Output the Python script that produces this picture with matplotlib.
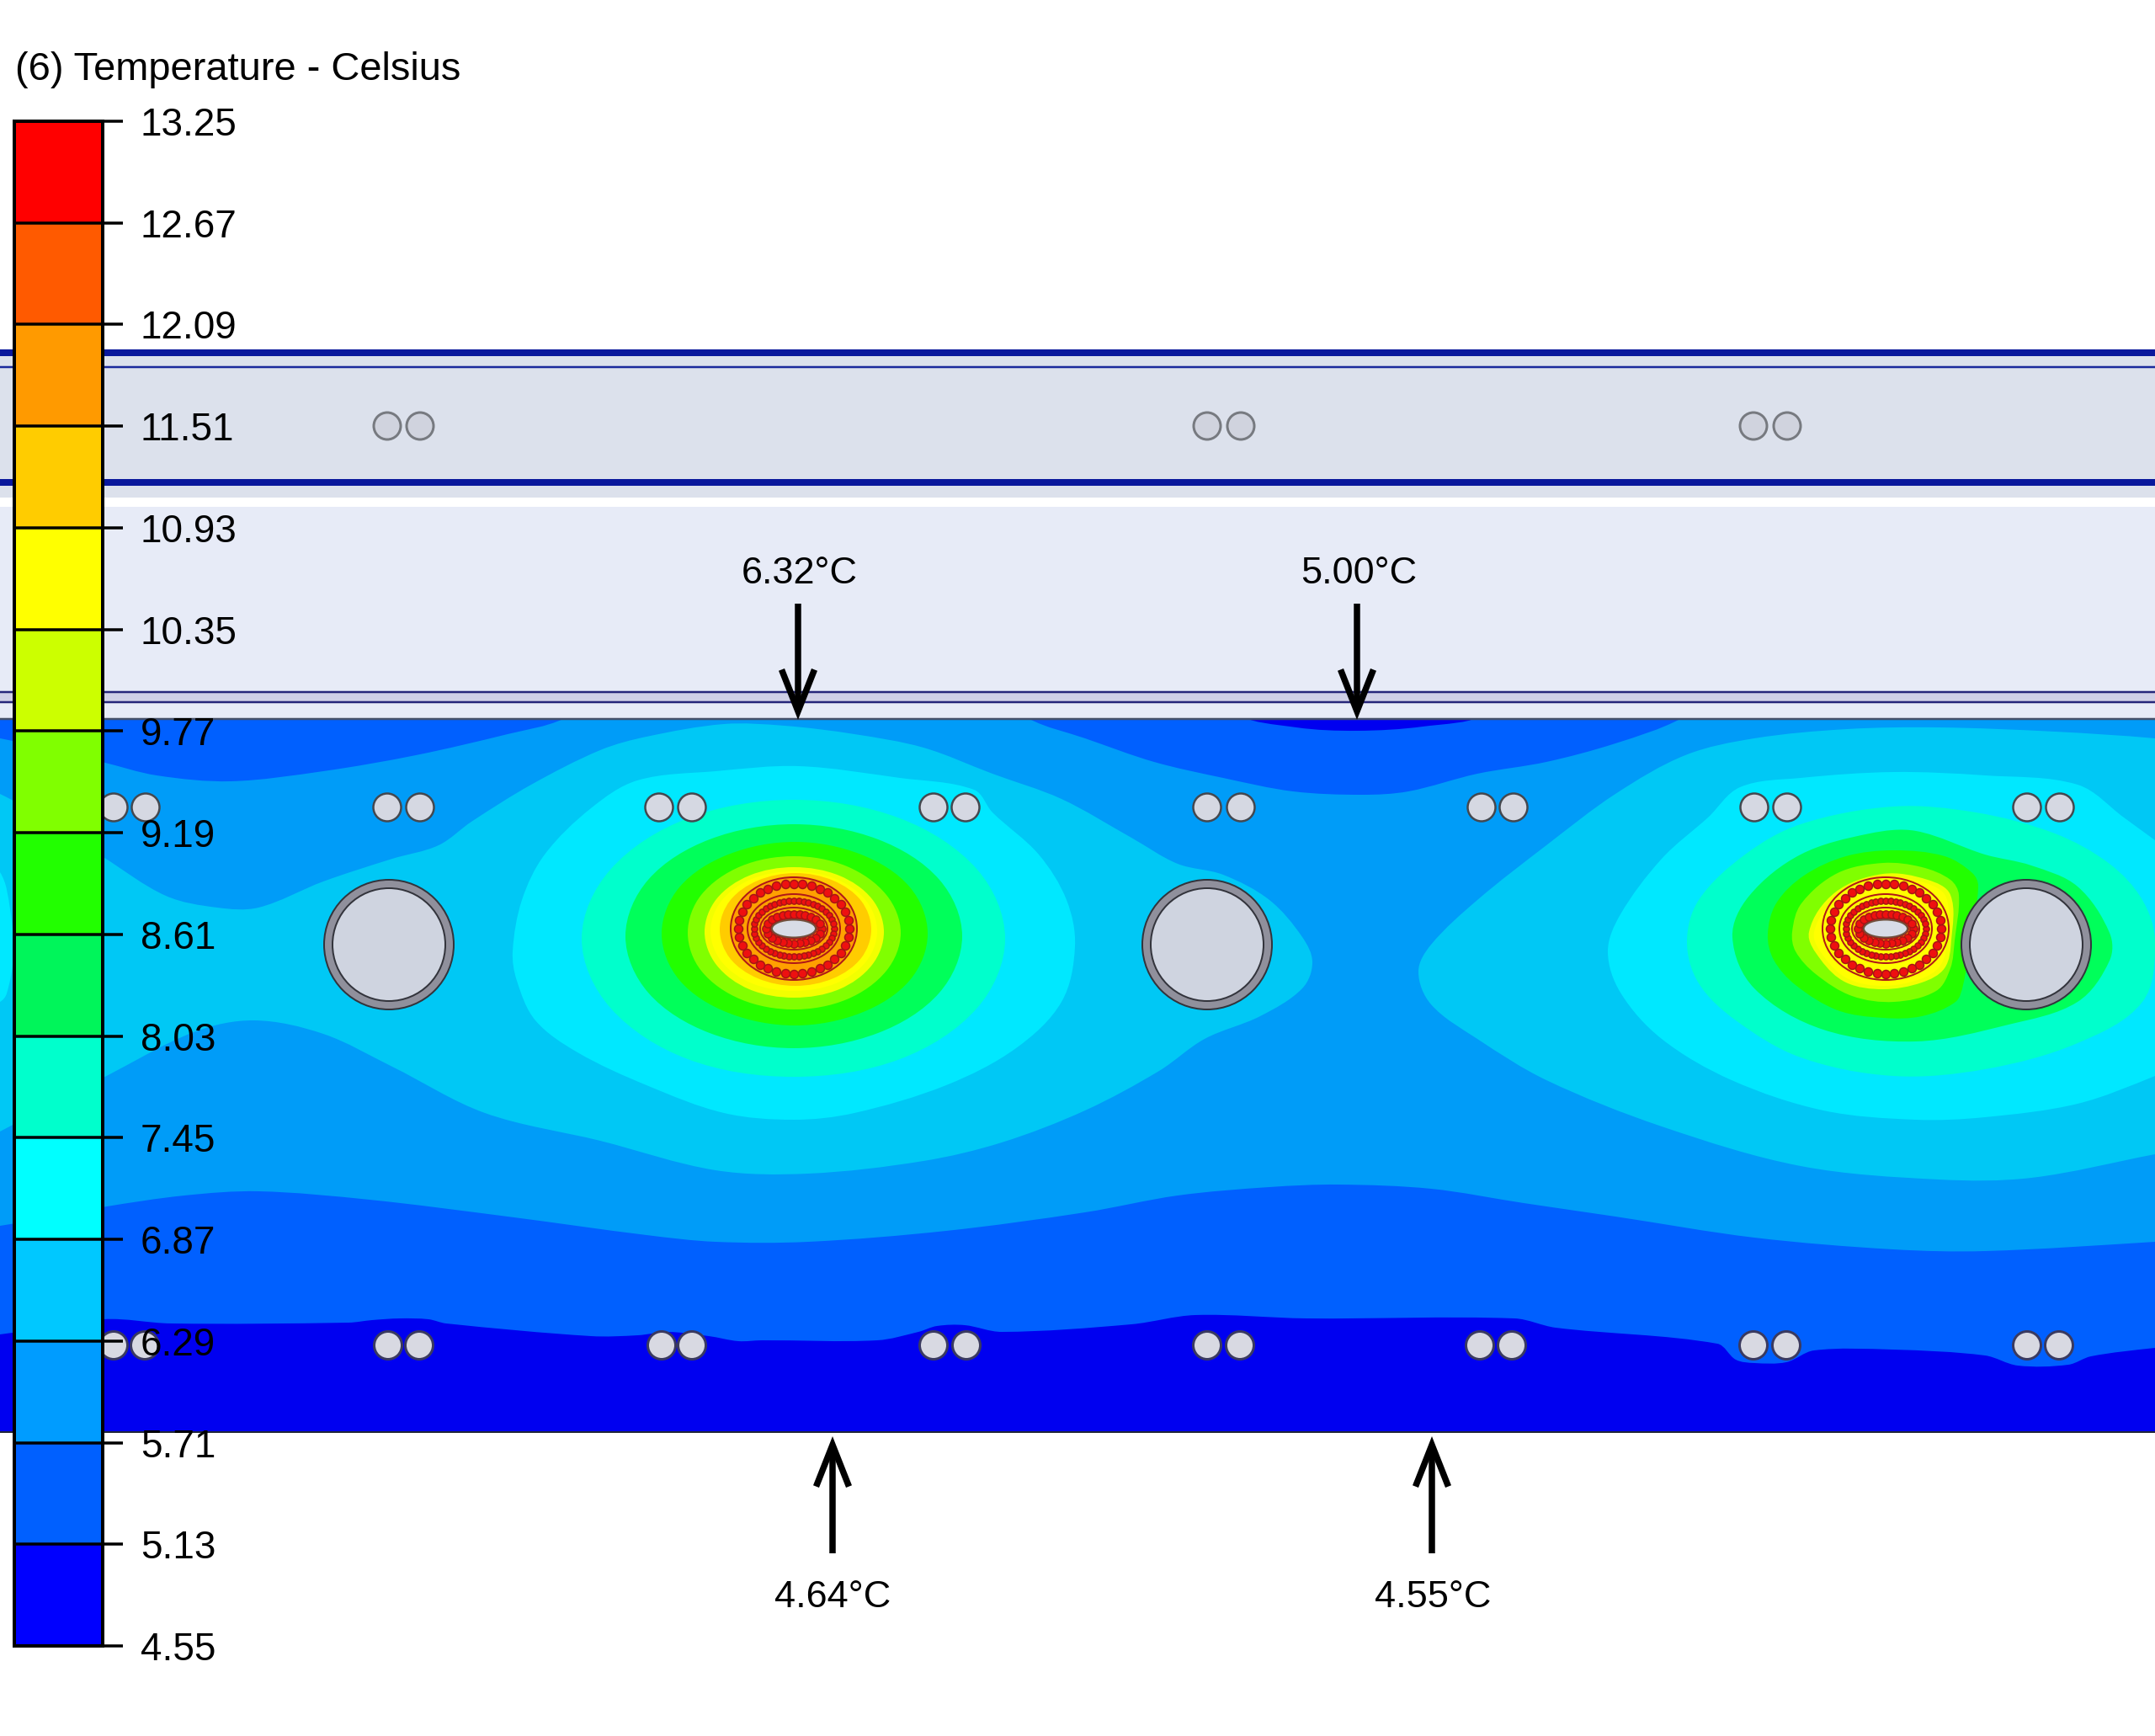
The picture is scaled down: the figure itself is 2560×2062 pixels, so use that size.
import numpy as np
import matplotlib
matplotlib.use("Agg")
import matplotlib.pyplot as plt
from matplotlib.cm import ScalarMappable
from matplotlib.colors import BoundaryNorm, ListedColormap
from matplotlib.patches import Circle, Ellipse, PathPatch, Rectangle
from matplotlib.path import Path

plt.rcParams['font.family'] = ['Liberation Sans', 'DejaVu Sans']

W, H = 2560, 2062

# colour scale
levels = [4.55, 5.13, 5.71, 6.29, 6.87, 7.45, 8.03, 8.61, 9.19, 9.77, 10.35, 10.93, 11.51, 12.09, 12.67, 13.25]
level_labels = ['4.55', '5.13', '5.71', '6.29', '6.87', '7.45', '8.03', '8.61', '9.19', '9.77', '10.35', '10.93',
                '11.51', '12.09', '12.67', '13.25']
bar_colors = ['#0000ff', '#0060ff', '#009cff', '#00c8ff', '#00ffff', '#00ffcc', '#00f55a', '#22ff00', '#80ff00',
              '#ccff00', '#ffff00', '#ffcc00', '#ff9a00', '#ff5a00', '#ff0000']
field_colors = ['#0000f0', '#0060ff', '#009cf8', '#00c8f5', '#00e8ff', '#00ffcc', '#00ff5a', '#22ff00', '#80ff00',
                '#f2ff00', '#ffff00', '#ffcc00', '#ffa000']

# isotherms (x, y in picture pixels, going round each warm region)
iso_5_13 = [[(-60, 790), (2620, 790), (2620, 1596), (2560, 1601), (2484, 1611), (2457, 1621), (2397, 1622), (2358, 1610),
             (2248, 1603), (2155, 1604), (2122, 1618), (2084, 1619), (2062, 1615), (2040, 1596), (1848, 1577),
             (1799, 1566), (1552, 1566), (1420, 1562), (1344, 1573), (1190, 1582), (1146, 1574), (1113, 1575),
             (1091, 1582), (1042, 1592), (905, 1592), (877, 1593), (842, 1587), (793, 1582), (758, 1586), (702, 1587),
             (530, 1572), (509, 1567), (475, 1566), (442, 1568), (414, 1571), (203, 1572), (123, 1567), (0, 1585), (-60, 1590)]]
cold_lens = [(1486, 850), (1540, 864), (1612, 868), (1690, 863), (1747, 850), (1620, 835)]
iso_5_71 = [[(-60, 870), (0, 877), (121, 905), (186, 921), (274, 928), (384, 916), (494, 897), (603, 872), (669, 854),
             (705, 825), (1190, 825), (1223, 854), (1289, 877), (1371, 905), (1453, 924), (1536, 940), (1618, 944),
             (1673, 940), (1755, 919), (1837, 905), (1919, 883), (1996, 854), (2030, 825), (2620, 825), (2620, 1470),
             (2560, 1475), (2358, 1486), (2249, 1484), (2084, 1470), (1919, 1445), (1810, 1429), (1700, 1412),
             (1590, 1407), (1508, 1410), (1399, 1420), (1289, 1440), (1124, 1462), (960, 1475), (850, 1475), (768, 1467),
             (603, 1445), (439, 1425), (307, 1415), (219, 1420), (121, 1434), (0, 1456), (-60, 1462)]]
iso_6_29 = [[(-60, 930), (0, 943), (121, 1017), (197, 1064), (258, 1078), (307, 1078), (384, 1047), (466, 1020), (521, 1004),
             (560, 976), (631, 932), (713, 891), (768, 875), (860, 860), (932, 862), (1015, 872), (1097, 888), (1179, 919),
             (1261, 949), (1344, 995), (1399, 1026), (1453, 1039), (1508, 1069), (1547, 1113), (1559, 1143), (1547, 1174),
             (1497, 1207), (1431, 1234), (1377, 1272), (1289, 1319), (1190, 1357), (1097, 1379), (960, 1394), (850, 1390),
             (713, 1355), (576, 1322), (466, 1267), (384, 1228), (302, 1212), (230, 1226), (121, 1281), (0, 1344),
             (-60, 1375)],
            [(1685, 1154), (1700, 1122), (1755, 1069), (1837, 1004), (1919, 943), (2002, 897), (2084, 877), (2194, 866),
             (2303, 864), (2441, 869), (2560, 877), (2620, 885), (2620, 1360), (2560, 1371), (2413, 1399), (2303, 1401),
             (2139, 1385), (1974, 1338), (1837, 1283), (1755, 1234), (1700, 1193)]]
iso_6_87 = [[(-20, 1030), (0, 1036), (12, 1080), (16, 1135), (8, 1180), (0, 1190), (-20, 1195)],
            [(609, 1130), (620, 1069), (647, 1015), (702, 960), (757, 927), (850, 916), (949, 910), (1069, 924), (1157, 938),
             (1179, 965), (1234, 1015), (1267, 1069), (1277, 1124), (1261, 1190), (1207, 1245), (1124, 1289), (1015, 1322),
             (943, 1330), (860, 1322), (768, 1289), (686, 1250), (636, 1212), (614, 1165)],
            [(1910, 1130), (1925, 1086), (1974, 1020), (2029, 971), (2067, 935), (2139, 924), (2249, 917), (2358, 921),
             (2468, 932), (2523, 971), (2560, 998), (2620, 1040), (2620, 1250), (2560, 1278), (2468, 1311), (2358, 1327),
             (2276, 1330), (2166, 1319), (2057, 1283), (1974, 1234), (1925, 1179)]]
iso_7_45 = [[(691, 1115), (725, 1033), (817, 972), (943, 950), (1069, 972), (1161, 1033), (1194, 1115), (1161, 1197),
             (1069, 1258), (943, 1279), (817, 1258), (725, 1197)],
            [(2004, 1119), (2018, 1069), (2073, 1015), (2139, 979), (2249, 958), (2347, 965), (2441, 990), (2506, 1026),
             (2545, 1069), (2560, 1119), (2545, 1190), (2468, 1239), (2358, 1270), (2249, 1278), (2139, 1256), (2062, 1212),
             (2018, 1168)]]
iso_8_03 = [[(743, 1112), (770, 1045), (843, 997), (943, 979), (1043, 997), (1116, 1045), (1143, 1112), (1116, 1179),
             (1043, 1227), (943, 1245), (843, 1227), (770, 1179)],
            [(2058, 1113), (2078, 1064), (2139, 1015), (2221, 990), (2276, 987), (2358, 1015), (2413, 1028), (2468, 1053),
             (2506, 1108), (2506, 1141), (2468, 1190), (2386, 1217), (2276, 1237), (2166, 1223), (2084, 1174)]]
iso_8_61 = [[(786, 1109), (807, 1054), (865, 1015), (944, 1000), (1023, 1015), (1081, 1054), (1102, 1109), (1081, 1164),
             (1023, 1203), (944, 1218), (865, 1203), (807, 1164)],
            [(2100, 1110), (2110, 1073), (2143, 1040), (2193, 1017), (2250, 1010), (2310, 1017), (2343, 1037), (2350, 1053),
             (2340, 1122), (2332, 1170), (2323, 1190), (2283, 1207), (2237, 1209), (2183, 1200), (2133, 1170), (2107, 1140)]]
iso_9_19 = [[(817, 1108), (833, 1063), (880, 1029), (943, 1017), (1006, 1029), (1053, 1063), (1070, 1108), (1053, 1153),
             (1006, 1187), (943, 1199), (880, 1187), (833, 1153)],
            [(2129, 1107), (2140, 1073), (2183, 1037), (2237, 1025), (2283, 1030), (2317, 1045), (2327, 1063), (2322, 1117),
             (2317, 1150), (2300, 1177), (2250, 1190), (2200, 1183), (2157, 1157), (2133, 1130)]]
iso_9_77 = [[(837, 1107), (851, 1068), (890, 1040), (943, 1030), (997, 1040), (1036, 1068), (1050, 1107), (1036, 1146),
             (997, 1175), (943, 1185), (890, 1175), (851, 1146)],
            [(2149, 1107), (2180, 1060), (2237, 1038), (2290, 1045), (2317, 1063), (2318, 1117), (2310, 1150), (2283, 1167),
             (2237, 1175), (2193, 1167), (2163, 1140)]]
iso_10_35 = [[(844, 1106), (857, 1070), (893, 1044), (943, 1035), (993, 1044), (1029, 1070), (1042, 1106), (1029, 1142),
              (993, 1168), (943, 1177), (893, 1168), (857, 1142)],
             [(2155, 1107), (2184, 1064), (2237, 1042), (2288, 1049), (2312, 1066), (2313, 1117), (2305, 1147), (2281, 1163),
              (2237, 1171), (2196, 1163), (2168, 1138)]]
iso_10_93 = [[(855, 1104), (867, 1070), (900, 1046), (945, 1037), (990, 1046), (1023, 1070), (1035, 1104), (1023, 1138),
              (990, 1162), (945, 1171), (900, 1162), (867, 1138)],
             [(2200, 1103), (2212, 1085), (2240, 1082), (2270, 1085), (2280, 1103), (2270, 1120), (2240, 1124), (2212, 1120)]]
iso_11_51 = [[(868, 1103), (878, 1073), (906, 1050), (943, 1042), (980, 1050), (1008, 1073), (1018, 1103), (1008, 1133),
              (980, 1156), (943, 1164), (906, 1156), (878, 1133)]]
isotherms = [iso_5_13, iso_5_71, iso_6_29, iso_6_87, iso_7_45, iso_8_03, iso_8_61, iso_9_19, iso_9_77, iso_10_35,
             iso_10_93, iso_11_51]

# things sitting in the section
pairs_top_x = [(460, 499), (1434, 1474), (2083, 2123)]
pairs_mid_x = [(135, 173), (460, 499), (783, 822), (1109, 1147), (1434, 1474), (1760, 1798), (2084, 2123), (2408, 2447)]
pairs_low_x = [(135, 172), (461, 498), (786, 822), (1109, 1148), (1434, 1473), (1758, 1796), (2083, 2122), (2408, 2446)]
big_pipes_x = [462, 1434, 2407]
coil_centers = [(943, 1103), (2240, 1103)]

arrows_top = [(948, '6.32°C', 950), (1612, '5.00°C', 1614)]
arrows_low = [(989, '4.64°C', 989), (1701, '4.55°C', 1702)]


def closed_path(pts):
    # smooth closed curve through the traced points, handles scaled to each chord so it doesn't overshoot
    p = np.array(pts, dtype=float)
    n = len(p)
    tang = np.roll(p, -1, axis=0) - np.roll(p, 1, axis=0)
    tang = tang / np.linalg.norm(tang, axis=1)[:, None]
    verts = [p[0]]
    codes = [Path.MOVETO]
    for i in range(n):
        j = (i + 1) % n
        d = np.linalg.norm(p[j] - p[i]) / 3
        verts += [p[i] + tang[i] * d, p[j] - tang[j] * d, p[j]]
        codes += [Path.CURVE4] * 3
    return Path(verts, codes)


def px(v):
    return v * 0.72


def ring_points(cx, cy, rx, ry, n):
    # n points evenly spaced along an ellipse
    t = np.linspace(0, 2 * np.pi, 721)
    x, y = rx * np.cos(t), ry * np.sin(t)
    s = np.r_[0, np.cumsum(np.hypot(np.diff(x), np.diff(y)))]
    si = np.linspace(0, s[-1], n, endpoint=False)
    ti = np.interp(si, s, t)
    return cx + rx * np.cos(ti), cy + ry * np.sin(ti)


def draw_coil(ax, cx, cy):
    for rx, ry in [(75, 61), (55, 41), (40, 25), (27, 12)]:
        ax.add_patch(Ellipse((cx, cy), 2 * rx, 2 * ry, fc='none', ec='#b01818', lw=px(2), zorder=6))
    for rx, ry, n, r in [(66, 53.5, 36, 5), (47.5, 33, 44, 3.6), (33, 17.5, 24, 4.6)]:
        x, y = ring_points(cx, cy, rx, ry, n)
        ax.scatter(x, y, s=(2 * px(r)) ** 2, c='#ee1010', edgecolors='#a81414', linewidths=px(1.5), zorder=6)
    ax.add_patch(Ellipse((cx, cy), 52, 21, fc='#d8dce6', ec='#70503c', lw=px(2), zorder=7))


fig = plt.figure(figsize=(W / 100, H / 100), dpi=100, facecolor='white')
ax = fig.add_axes([0, 0, 1, 1])
ax.set_xlim(0, W)
ax.set_ylim(H, 0)
ax.set_axis_off()

# road layers above the section
ax.add_patch(Rectangle((0, 416), W, 175, fc='#dce1ec', ec='none'))
ax.add_patch(Rectangle((0, 602), W, 252, fc='#e7ebf7', ec='none'))
ax.add_patch(Rectangle((0, 822), W, 12, fc='#cfcfe6', ec='none'))
for y, lw, c in [(419, 8, '#0a189c'), (436, 2.5, '#1a2a9c'), (573, 8, '#0a189c'), (822, 2.5, '#26267a'), (834, 2.5, '#26267a')]:
    ax.plot([0, W], [y, y], color=c, lw=px(lw), solid_capstyle='butt', zorder=2)

# temperature bands
field = Rectangle((0, 854), W, 847, fc=field_colors[0], ec='none', zorder=3)
ax.add_patch(field)
for i, outlines in enumerate(isotherms):
    for pts in outlines:
        band = PathPatch(closed_path(pts), fc=field_colors[i + 1], ec='none', zorder=3)
        ax.add_patch(band)
        band.set_clip_path(field)
    if i == 0:
        band = PathPatch(closed_path(cold_lens), fc=field_colors[0], ec='none', zorder=3)
        ax.add_patch(band)
        band.set_clip_path(field)
ax.plot([0, W], [854, 854], color='#45506a', lw=px(2.5), zorder=4)
ax.plot([0, W], [1701, 1701], color='#20263a', lw=px(2), zorder=4)

# pipes
for pair in pairs_top_x:
    for x in pair:
        ax.add_patch(Circle((x, 506), 16, fc='#d0d3de', ec='#777a80', lw=px(3), zorder=5))
for pair in pairs_mid_x:
    for x in pair:
        ax.add_patch(Circle((x, 959), 16.5, fc='#d5d8e2', ec='#44484f', lw=px(2.5), zorder=5))
for pair in pairs_low_x:
    for x in pair:
        ax.add_patch(Circle((x, 1598), 16.5, fc='#d8d9e2', ec='#3a3a60', lw=px(3), zorder=5))
for x in big_pipes_x:
    ax.add_patch(Circle((x, 1122), 77, fc='#90909c', ec='#33343c', lw=px(2), zorder=5))
    ax.add_patch(Circle((x, 1122), 67, fc='#cfd4e0', ec='#33343c', lw=px(2), zorder=5))
for cx, cy in coil_centers:
    draw_coil(ax, cx, cy)

# measuring arrows
arrow_style = dict(arrowstyle='->,head_length=1.9,head_width=0.75', color='black', lw=px(7.5), shrinkA=0, shrinkB=0,
                   mutation_scale=px(26), joinstyle='miter', capstyle='butt')
for x, label, tx in arrows_top:
    ax.annotate('', xy=(x, 855), xytext=(x, 717), arrowprops=arrow_style, zorder=8)
    ax.text(tx, 693, label, ha='center', va='baseline', fontsize=32.5, zorder=8)
for x, label, tx in arrows_low:
    ax.annotate('', xy=(x, 1706), xytext=(x, 1845), arrowprops=arrow_style, zorder=8)
    ax.text(tx, 1909, label, ha='center', va='baseline', fontsize=32.5, zorder=8)

ax.text(18, 95, '(6) Temperature - Celsius', ha='left', va='baseline', fontsize=33.8)

# colour bar, on top of everything
cax = fig.add_axes([17 / W, 1 - 1955 / H, 105 / W, (1955 - 144) / H])
sm = ScalarMappable(norm=BoundaryNorm(levels, 15), cmap=ListedColormap(bar_colors))
cb = fig.colorbar(sm, cax=cax, spacing='uniform', drawedges=True)
cb.set_ticks(levels, labels=level_labels)
cb.minorticks_off()
cb.ax.tick_params(length=px(24), width=px(3.5), pad=px(21), labelsize=33, color='black')
cb.outline.set_linewidth(px(4))
cb.outline.set_edgecolor('black')
cb.dividers.set_linewidth(px(3.5))
cb.dividers.set_color('black')

fig.savefig('out.png', dpi=100)
